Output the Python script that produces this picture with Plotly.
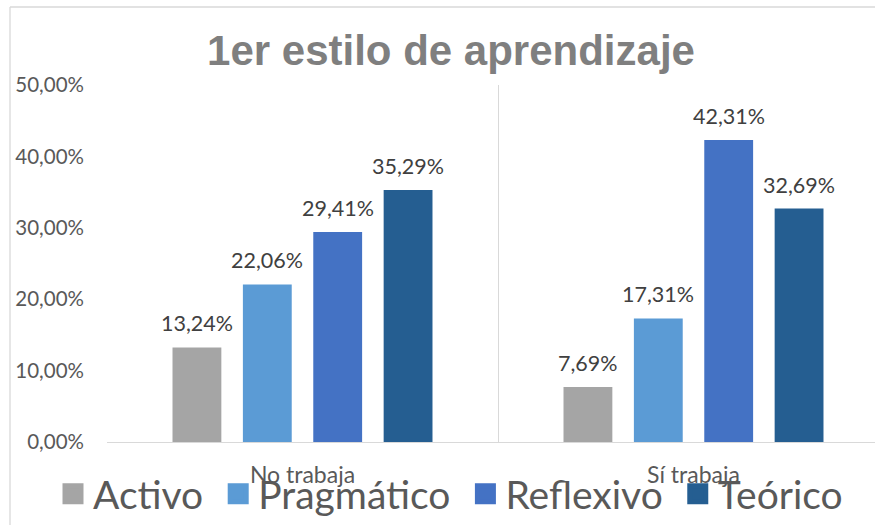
import plotly.graph_objects as go

categories = ["No trabaja", "Sí trabaja"]
series_names = ["Activo", "Pragmático", "Reflexivo", "Teórico"]
series_colors = ["#A5A5A5", "#5B9BD5", "#4472C4", "#255E91"]
values_activo = [0.1324, 0.0769]
values_pragmatico = [0.2206, 0.1731]
values_reflexivo = [0.2941, 0.4231]
values_teorico = [0.3529, 0.3269]
series_values = [values_activo, values_pragmatico, values_reflexivo, values_teorico]
y_ticks = [0, 0.1, 0.2, 0.3, 0.4, 0.5]

W, H = 875, 525
ML, MR, MT, MB = 107, 0, 85, 83
plot_w = W - ML - MR
plot_h = H - MT - MB
cat_px = 391.0
x_span = plot_w / cat_px
bargap = 0.28
slot = (1 - bargap) / len(series_names)

BODY_FONT = "Lato, 'Open Sans', sans-serif"
PAD = "\u00a0"

fig = go.Figure()
for name, color, vals in zip(series_names, series_colors, series_values):
    fig.add_trace(go.Bar(
        x=categories, y=vals, name=name,
        marker=dict(color=color, line=dict(width=0)),
        showlegend=False, hoverinfo="x+y+name",
    ))
# legend entries (bigger square symbols)
for name, color in zip(series_names, series_colors):
    fig.add_trace(go.Scatter(
        x=[None], y=[None], mode="markers", name=name + PAD,
        marker=dict(symbol="square", size=16, color=color,
                    line=dict(color=color, width=5)),
        showlegend=True,
    ))

annotations = []
for i, vals in enumerate(series_values):
    for cat, v in zip(categories, vals):
        txt = f"{v*100:.2f}%".replace(".", ",")
        annotations.append(dict(
            x=cat, y=v, xref="x", yref="y",
            xshift=(i - (len(series_names) - 1) / 2) * slot * cat_px,
            yshift=9, yanchor="bottom", xanchor="center",
            text=txt, showarrow=False,
            font=dict(family=BODY_FONT, size=21.5, color="#404040"),
        ))

border = dict(color="#D9D9D9", width=1.3)
x_left = (10 - ML) / plot_w
y_top = (H - MB - 7) / plot_h
y_bot = -(MB + 5) / plot_h
x_right = (W + 5 - ML) / plot_w
shapes = [
    dict(type="line", xref="paper", yref="paper", x0=x_left, x1=x_left, y0=y_bot, y1=y_top, line=border, layer="below"),
    dict(type="line", xref="paper", yref="paper", x0=x_left, x1=x_right, y0=y_top, y1=y_top, line=border, layer="below"),
]

fig.update_layout(
    width=W, height=H,
    margin=dict(l=ML, r=MR, t=MT, b=MB, pad=0, autoexpand=False),
    paper_bgcolor="white", plot_bgcolor="white",
    separators=",.",
    barmode="group", bargap=bargap, bargroupgap=0.306,
    title=dict(
        text="1er estilo de aprendizaje",
        font=dict(family="'Liberation Sans', Arial, sans-serif", size=42, color="#7F7F7F", weight="bold"),
        x=451 / W, xanchor="center", xref="container",
        y=1 - 50 / H, yanchor="middle", yref="container",
    ),
    xaxis=dict(
        type="category", range=[-0.5, -0.5 + x_span],
        tickson="boundaries", ticks="",
        showgrid=True, gridcolor="#D9D9D9", gridwidth=1.3,
        showline=True, linecolor="#D9D9D9", linewidth=1.3,
        tickfont=dict(family=BODY_FONT, size=23, color="#595959"),
        ticklabelstandoff=12, automargin=False,
        fixedrange=True,
    ),
    yaxis=dict(
        range=[0, 0.5], tickvals=y_ticks, tickformat=".2%",
        showgrid=False, zeroline=False, showline=False, ticks="",
        tickfont=dict(family=BODY_FONT, size=20.5, color="#595959"),
        ticklabelstandoff=22, automargin=False,
        fixedrange=True,
    ),
    legend=dict(
        orientation="h", x=(53 - ML) / plot_w, xanchor="left", xref="paper",
        y=-(494 - (H - MB)) / plot_h, yanchor="middle", yref="paper",
        font=dict(family=BODY_FONT, size=39, color="#595959"),
        bgcolor="rgba(0,0,0,0)", itemsizing="trace",
    ),
    annotations=annotations,
    shapes=shapes,
)

fig.write_html(
    "out.html",
    config={"displayModeBar": False},
    post_script="document.body.style.margin='0';document.body.style.padding='0';",
)
